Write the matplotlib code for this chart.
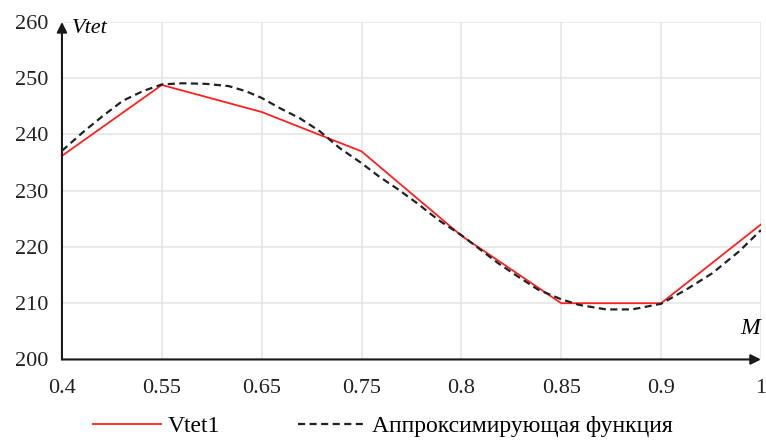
import matplotlib.pyplot as plt

plt.rcParams['font.family'] = ['Liberation Serif', 'DejaVu Serif']

# categories on the M axis (equally spaced)
m_labels = ["0.4", "0.55", "0.65", "0.75", "0.8", "0.85", "0.9", "1"]
vtet1 = [236.2, 248.8, 244, 237, 222, 210, 210, 224]

# approximating curve (x in category units)
approx_pos = [0, 0.21, 0.41, 0.61, 0.81, 1.0, 1.2, 1.44, 1.67, 1.84, 2.0,
              2.18, 2.38, 2.58, 2.78, 3.0, 3.17, 3.37, 3.57, 3.77, 4.0, 4.17,
              4.37, 4.57, 4.77, 5.0, 5.18, 5.45, 5.71, 6.0, 6.24, 6.51, 6.78, 7.0]
approx_vals = [237.1, 240.4, 243.3, 246.0, 247.7, 248.9, 249.1, 249.0, 248.6,
               247.7, 246.5, 244.7, 242.9, 240.6, 237.6, 234.9, 232.6, 230.2,
               227.6, 224.8, 222.1, 219.8, 217.1, 214.7, 212.4, 210.7, 209.7,
               208.9, 208.9, 209.9, 212.3, 215.3, 219.2, 223.0]

y_ticks = [200, 210, 220, 230, 240, 250, 260]

fig = plt.figure(figsize=(7.66, 4.42), dpi=100)
ax = fig.add_axes([0.0809, 0.1867, 0.9125, 0.7636])

x = list(range(len(m_labels)))
ax.plot(x, vtet1, color='#ff2020', linewidth=1.3, label='Vtet1', zorder=3)
ax.plot(approx_pos, approx_vals, color='#222222', linewidth=1.6,
        linestyle=(0, (3.2, 2)), label='Аппроксимирующая функция', zorder=4)

ax.set_xlim(0, 7)
ax.set_ylim(200, 260)
ax.set_xticks(x)
ax.set_xticklabels(m_labels)
ax.set_yticks(y_ticks)
ax.tick_params(length=0, labelsize=16, colors='#222222')
ax.tick_params(axis='x', pad=14)
ax.tick_params(axis='y', pad=10)
ax.grid(True, color='#e4e4e4', linewidth=1.1)
for s in ax.spines.values():
    s.set_visible(False)

# axis arrows
ax.annotate('', xy=(0, 1.0), xytext=(0, 0), xycoords='axes fraction',
            arrowprops=dict(arrowstyle='-|>', color='#1a1a1a', lw=1.5,
                            mutation_scale=15, shrinkA=0, shrinkB=0))
ax.annotate('', xy=(1.0, 0), xytext=(0, 0), xycoords='axes fraction',
            arrowprops=dict(arrowstyle='-|>', color='#1a1a1a', lw=1.5,
                            mutation_scale=15, shrinkA=0, shrinkB=0))
ax.text(0.0145, 0.98, 'Vtet', transform=ax.transAxes, fontsize=16,
        style='italic', va='center', ha='left')
ax.text(0.9985, 0.092, 'M', transform=ax.transAxes, fontsize=17,
        style='italic', va='center', ha='right')

fig.legend(loc='center left', bbox_to_anchor=(93 / 766, 1 - 426 / 442), ncol=2,
           frameon=False, fontsize=17, handlelength=2.9, handletextpad=0.25,
           columnspacing=3.3, borderpad=0, borderaxespad=0)

fig.savefig('out.png', dpi=100)
